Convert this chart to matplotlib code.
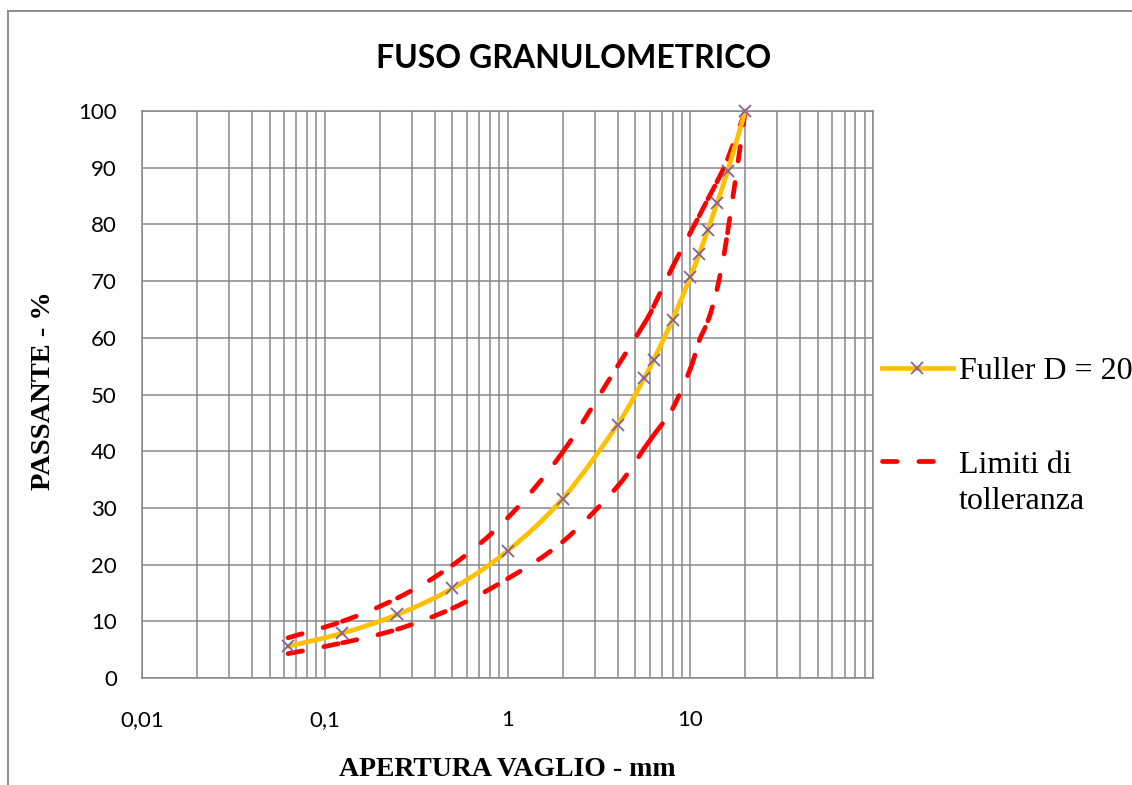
import matplotlib
matplotlib.use("Agg")
import matplotlib.pyplot as plt
import numpy as np
from matplotlib.path import Path
from matplotlib.patches import PathPatch
from matplotlib.lines import Line2D
from matplotlib.ticker import LogLocator, NullFormatter

# sieve openings (mm) and passing percentages
sieves = [0.063, 0.125, 0.25, 0.5, 1, 2, 4, 5.6, 6.3, 8, 10, 11.2, 12.5, 14, 16, 20]
fuller = [5.6, 7.9, 11.2, 15.8, 22.4, 31.6, 44.7, 52.9, 56.1, 63.2, 70.7, 74.8, 79.1, 83.7, 89.4, 100]
upper = [7.1, 10.0, 14.1, 19.9, 28.2, 39.8, 55.0, 62.5, 65.5, 72.5, 78.5, 81.5, 84.5, 87.5, 91.5, 100]
lower = [4.3, 6.2, 8.6, 12.3, 17.5, 24.0, 33.8, 40.5, 42.8, 47.5, 54.5, 59.5, 63.0, 68.5, 78.5, 100]

x_ticks = [0.01, 0.1, 1, 10, 100]
x_tick_labels = ["0,01", "0,1", "1", "10", ""]
y_ticks = list(range(0, 101, 10))

GRID = "#878787"
GOLD = "#FFC000"
RED = "#FF0000"
PURPLE = "#7F63A1"
SERIF = "Liberation Serif"

plt.rcParams["font.family"] = ["Lato", "DejaVu Sans"]


def smooth_segments(x, y):
    # Excel-style smoothed line: one cubic Bezier per segment,
    # Catmull-Rom control points computed in log-x space
    p = np.column_stack([np.log10(np.asarray(x, float)), np.asarray(y, float)])
    n = len(p)
    segs = []
    for i in range(n - 1):
        p0 = p[max(i - 1, 0)]
        p1 = p[i]
        p2 = p[i + 1]
        p3 = p[min(i + 2, n - 1)]
        c1 = p1 + (p2 - p0) / 6
        c2 = p2 - (p3 - p1) / 6
        v = np.array([p1, c1, c2, p2])
        v[:, 0] = 10 ** v[:, 0]
        segs.append(v)
    return segs


fig = plt.figure(figsize=(11.32, 7.85), dpi=100)
ax = fig.add_axes([142 / 1132, 1 - 678 / 785, 731 / 1132, 567 / 785])

ax.set_xscale("log")
ax.set_xlim(0.01, 100)
ax.set_ylim(0, 100)
ax.set_xticks(x_ticks, x_tick_labels)
ax.xaxis.set_minor_locator(LogLocator(base=10, subs=np.arange(2, 10)))
ax.xaxis.set_minor_formatter(NullFormatter())
ax.set_yticks(y_ticks)
ax.grid(True, which="both", color=GRID, lw=1.1)
ax.set_axisbelow(True)
ax.tick_params(which="both", length=0)
ax.tick_params(axis="x", pad=23, labelsize=16)
ax.tick_params(axis="y", pad=18, labelsize=16)
for s in ax.spines.values():
    s.set_color(GRID)
    s.set_linewidth(1.1)

# tolerance limits, dash pattern restarts at every data point like Excel
dash = (0, (3.1, 4.6))
for ys in (upper, lower):
    for v in smooth_segments(sieves, ys):
        path = Path(v, [Path.MOVETO, Path.CURVE4, Path.CURVE4, Path.CURVE4])
        ax.add_patch(PathPatch(path, fill=False, ec=RED, lw=3.4, linestyle=dash,
                               capstyle="round", joinstyle="round", clip_on=False, zorder=3))

# Fuller curve
segs = smooth_segments(sieves, fuller)
verts = [segs[0][0]]
codes = [Path.MOVETO]
for v in segs:
    verts.extend(v[1:])
    codes.extend([Path.CURVE4] * 3)
ax.add_patch(PathPatch(Path(np.array(verts), codes), fill=False, ec=GOLD, lw=3.4,
                       capstyle="round", joinstyle="round", clip_on=False, zorder=4))
ax.plot(sieves, fuller, linestyle="none", marker="x", ms=8, mew=1.3, color=PURPLE,
        clip_on=False, zorder=5)

fig.text(574 / 1132, 1 - 58 / 785, "FUSO GRANULOMETRICO", ha="center", va="center",
         fontsize=23, fontweight="bold")
ax.set_xlabel("APERTURA VAGLIO - mm", family=SERIF, fontsize=20, fontweight="bold", va="center")
ax.xaxis.set_label_coords(0.5, -92 / 567)
ax.set_ylabel("PASSANTE - %", family=SERIF, fontsize=20.5, fontweight="bold", va="center")
ax.yaxis.set_label_coords(-98 / 731, 0.506)

handles = [
    Line2D([], [], color=GOLD, lw=3.4, marker="x", ms=8, mew=1.3, mec=PURPLE),
    Line2D([], [], color=RED, lw=3.4, linestyle=dash, dash_capstyle="round"),
]
leg = fig.legend(handles, ["Fuller D = 20", "Limiti di"], loc="upper left",
                 bbox_to_anchor=(882 / 1132, 1 - 357 / 785), frameon=False,
                 prop={"family": SERIF, "size": 23}, borderpad=0, borderaxespad=0,
                 handlelength=2.22, handletextpad=0.19, labelspacing=2.0)
# second line of the legend label, hung below "Limiti di"
fig.add_artist(matplotlib.text.Annotation(
    "tolleranza", xy=(0, 0), xycoords=leg.texts[1], xytext=(0, -26),
    textcoords="offset points", va="bottom", ha="left", family=SERIF, fontsize=23,
    zorder=10))

# outer chart-area border (right and bottom sides fall outside the image)
fig.add_artist(Line2D([8 / 1132, 8 / 1132], [0, 1 - 11 / 785], color="#8C8C8C", lw=1.4,
                      transform=fig.transFigure))
fig.add_artist(Line2D([8 / 1132, 1], [1 - 11 / 785, 1 - 11 / 785], color="#8C8C8C", lw=1.4,
                      transform=fig.transFigure))

fig.savefig("out.png", dpi=100)
